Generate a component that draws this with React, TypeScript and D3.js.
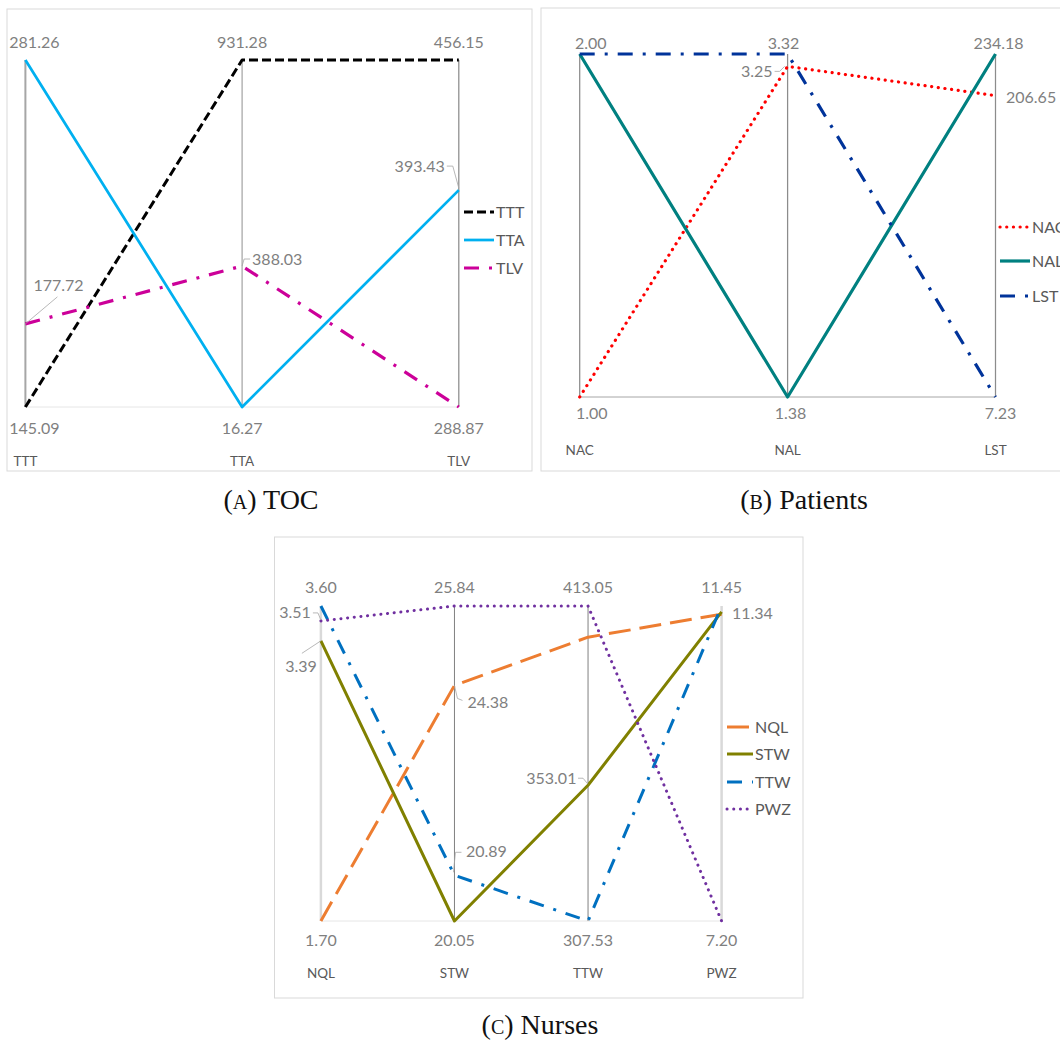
import React from 'react';
import * as d3 from 'd3';

// (a) TOC
const tocAxes = ['TTT', 'TTA', 'TLV'];
const tocMin = [145.09, 16.27, 288.87];
const tocMax = [281.26, 931.28, 456.15];
const tocSeries = ['TTT', 'TTA', 'TLV'];
const tocTTT = [145.09, 931.28, 456.15];
const tocTTA = [281.26, 16.27, 393.43];
const tocTLV = [177.72, 388.03, 288.87];

// (b) Patients
const patAxes = ['NAC', 'NAL', 'LST'];
const patMin = [1.0, 1.38, 7.23];
const patMax = [2.0, 3.32, 234.18];
const patSeries = ['NAC', 'NAL', 'LST'];
const patNAC = [1.0, 3.25, 206.65];
const patNAL = [2.0, 1.38, 234.18];
const patLST = [2.0, 3.32, 7.23];

// (c) Nurses
const nurAxes = ['NQL', 'STW', 'TTW', 'PWZ'];
const nurMin = [1.7, 20.05, 307.53, 7.2];
const nurMax = [3.6, 25.84, 413.05, 11.45];
const nurSeries = ['NQL', 'STW', 'TTW', 'PWZ'];
const nurNQL = [1.7, 24.38, 402.6, 11.34];
const nurSTW = [3.39, 20.05, 353.01, 11.37];
const nurTTW = [3.6, 20.89, 307.53, 11.45];
const nurPWZ = [3.51, 25.84, 413.05, 7.2];

const SANS = 'Lato, "Open Sans", sans-serif';
const DASH = '9,4';
const LONGDASH = '22,9';
const DASHDOT = '15,10,3,10';
const DOT = '0.1,6.6';

const panels = [
  {
    axes: tocAxes, min: tocMin, max: tocMax, names: tocSeries,
    values: [tocTTT, tocTTA, tocTLV],
    styles: [
      { color: '#000000', w: 3, dash: DASH, cap: 'butt' },
      { color: '#00B0F0', w: 2.75, dash: null, cap: 'butt' },
      { color: '#CC0099', w: 3.2, dash: DASHDOT, cap: 'butt' },
    ],
    frame: [7, 9, 525, 462],
    xRange: [25.4, 458.8], yRange: [407, 60],
    topY: 42, botY: 428, nameY: 461,
    topDx: [9, 0, 0], botDx: [9, 0, 0],
    axisColor: ['#A6A6A6', '#A6A6A6', '#8C8C8C'], axisW: [2, 1.25, 1.25],
    baseColor: '#E6E6E6',
    legend: { x1: 464, x2: 494, tx: 496, y: [212, 240, 268] },
    caption: { x: 271, y: 500, letter: 'A', title: 'TOC' },
    notes: [
      { s: 2, a: 0, anchor: 'start', dx: 8, dy: -38, leader: [[0, 0], [32, -27]] },
      { s: 2, a: 1, anchor: 'start', dx: 10, dy: -7, leader: [[0, 0], [2, -7], [8, -7]] },
      { s: 1, a: 2, anchor: 'end', dx: -14, dy: -24, leader: [[-12, -24], [-6, -24], [0, -2]] },
    ],
  },
  {
    axes: patAxes, min: patMin, max: patMax, names: patSeries,
    values: [patNAC, patNAL, patLST],
    styles: [
      { color: '#FF0000', w: 3.2, dash: DOT, cap: 'round' },
      { color: '#008080', w: 3.2, dash: null, cap: 'butt' },
      { color: '#00339A', w: 3.2, dash: DASHDOT, cap: 'butt' },
    ],
    frame: [541, 8, 540, 463],
    xRange: [579.7, 995.5], yRange: [397, 54],
    topY: 43, botY: 413, nameY: 450,
    topDx: [11, -4, 3], botDx: [12, 3, 5],
    axisColor: ['#8C8C8C', '#8C8C8C', '#8C8C8C'], axisW: [1.25, 1.25, 1.25],
    baseColor: '#A6A6A6',
    legend: { x1: 1000, x2: 1030, tx: 1032, y: [227, 261, 296] },
    caption: { x: 804, y: 500, letter: 'B', title: 'Patients' },
    notes: [
      { s: 0, a: 1, anchor: 'end', dx: -15, dy: 5, leader: [[-13, 5], [-8, 5], [-3, 0]] },
      { s: 0, a: 2, anchor: 'start', dx: 10.5, dy: 1.4, leader: null },
    ],
  },
  {
    axes: nurAxes, min: nurMin, max: nurMax, names: nurSeries,
    values: [nurNQL, nurSTW, nurTTW, nurPWZ],
    styles: [
      { color: '#ED7D31', w: 3, dash: LONGDASH, cap: 'butt' },
      { color: '#808000', w: 3, dash: null, cap: 'butt' },
      { color: '#0070C0', w: 3, dash: DASHDOT, cap: 'butt' },
      { color: '#7030A0', w: 3, dash: DOT, cap: 'round' },
    ],
    frame: [274.5, 537, 528.5, 461],
    xRange: [320.9, 721.6], yRange: [921, 606],
    topY: 587, botY: 940, nameY: 973,
    topDx: [0, 0, 0, 0], botDx: [0, 0, 0, 0],
    axisColor: ['#D9D9D9', '#808080', '#808080', '#D9D9D9'], axisW: [2.5, 1, 1, 2.5],
    baseColor: '#E6E6E6',
    legend: { x1: 727, x2: 753, tx: 755, y: [727, 754, 782, 809] },
    caption: { x: 540, y: 1025, letter: 'C', title: 'Nurses' },
    notes: [
      { s: 3, a: 0, anchor: 'end', dx: -10, dy: -8, leader: [[-8, -8], [-3, -8], [0, -1]] },
      { s: 1, a: 0, anchor: 'end', dx: -4, dy: 26, leader: [[0, 0], [-19, 12.5]] },
      { s: 0, a: 1, anchor: 'start', dx: 13, dy: 16.6, leader: [[0, 0], [3, 13], [8, 15]] },
      { s: 2, a: 1, anchor: 'start', dx: 11.5, dy: -24, leader: [[-1, -3], [1, -23], [7, -23]] },
      { s: 1, a: 2, anchor: 'end', dx: -11.6, dy: -7, leader: [[-10, -7], [-5, -7], [0, -1]] },
      { s: 0, a: 3, anchor: 'start', dx: 10.4, dy: -1, leader: null },
    ],
  },
];

const Panel = ({ cfg }) => {
  const x = d3.scalePoint().domain(cfg.axes).range(cfg.xRange);
  const ys = cfg.axes.map((a, i) =>
    d3.scaleLinear().domain([cfg.min[i], cfg.max[i]]).range(cfg.yRange)
  );
  const line = d3.line()
    .x((d, i) => x(cfg.axes[i]))
    .y((d, i) => ys[i](d));
  const [fx, fy, fw, fh] = cfg.frame;
  const yBot = cfg.yRange[0];
  const yTop = cfg.yRange[1];
  const first = x(cfg.axes[0]);
  const last = x(cfg.axes[cfg.axes.length - 1]);

  return (
    <g>
      <rect x={fx} y={fy} width={fw} height={fh} fill="#fff" stroke="#D9D9D9" strokeWidth={1} />
      <line x1={first} x2={last} y1={yBot} y2={yBot} stroke={cfg.baseColor} strokeWidth={1} />
      {cfg.axes.map((a, i) => (
        <line key={a} x1={x(a)} x2={x(a)} y1={yTop} y2={yBot}
          stroke={cfg.axisColor[i]} strokeWidth={cfg.axisW[i]} />
      ))}
      {cfg.values.map((vals, s) => (
        <path key={s} d={line(vals)} fill="none" stroke={cfg.styles[s].color}
          strokeWidth={cfg.styles[s].w} strokeDasharray={cfg.styles[s].dash || undefined}
          strokeLinecap={cfg.styles[s].cap} strokeLinejoin="round" />
      ))}
      {cfg.axes.map((a, i) => (
        <g key={'lab' + a} fontFamily={SANS} fontSize={16} fill="#7F7F7F" textAnchor="middle">
          <text x={x(a) + cfg.topDx[i]} y={cfg.topY + 5.5}>{cfg.max[i].toFixed(2)}</text>
          <text x={x(a) + cfg.botDx[i]} y={cfg.botY + 5.5}>{cfg.min[i].toFixed(2)}</text>
          <text x={x(a)} y={cfg.nameY + 4.5} fontSize={13.5} fill="#595959">{a}</text>
        </g>
      ))}
      {cfg.notes.map((n, k) => {
        const px = x(cfg.axes[n.a]);
        const py = ys[n.a](cfg.values[n.s][n.a]);
        return (
          <g key={'n' + k}>
            {n.leader && (
              <polyline points={n.leader.map(p => `${px + p[0]},${py + p[1]}`).join(' ')}
                fill="none" stroke="#A6A6A6" strokeWidth={0.8} />
            )}
            <text x={px + n.dx} y={py + n.dy + 5.5} textAnchor={n.anchor}
              fontFamily={SANS} fontSize={16} fill="#7F7F7F">
              {cfg.values[n.s][n.a].toFixed(2)}
            </text>
          </g>
        );
      })}
      {cfg.names.map((nm, s) => (
        <g key={'lg' + nm}>
          <line x1={cfg.legend.x1} x2={cfg.legend.x2} y1={cfg.legend.y[s]} y2={cfg.legend.y[s]}
            stroke={cfg.styles[s].color} strokeWidth={cfg.styles[s].w}
            strokeDasharray={cfg.styles[s].dash || undefined} strokeLinecap={cfg.styles[s].cap} />
          <text x={cfg.legend.tx} y={cfg.legend.y[s] + 5.5} fontFamily={SANS} fontSize={16} fill="#595959">{nm}</text>
        </g>
      ))}
      <text x={cfg.caption.x} y={cfg.caption.y + 9} textAnchor="middle"
        fontFamily='"Liberation Serif", serif' fontSize={28} fill="#111">
        (<tspan fontSize={20}>{cfg.caption.letter}</tspan>) {cfg.caption.title}
      </text>
    </g>
  );
};

export default function App() {
  return (
    <div>
      <style>{'body{margin:0;overflow:hidden}'}</style>
      <svg width={1060} height={1041} style={{ display: 'block' }}>
        <rect width={1060} height={1041} fill="#fff" />
        {panels.map((p, i) => <Panel key={i} cfg={p} />)}
      </svg>
    </div>
  );
}
